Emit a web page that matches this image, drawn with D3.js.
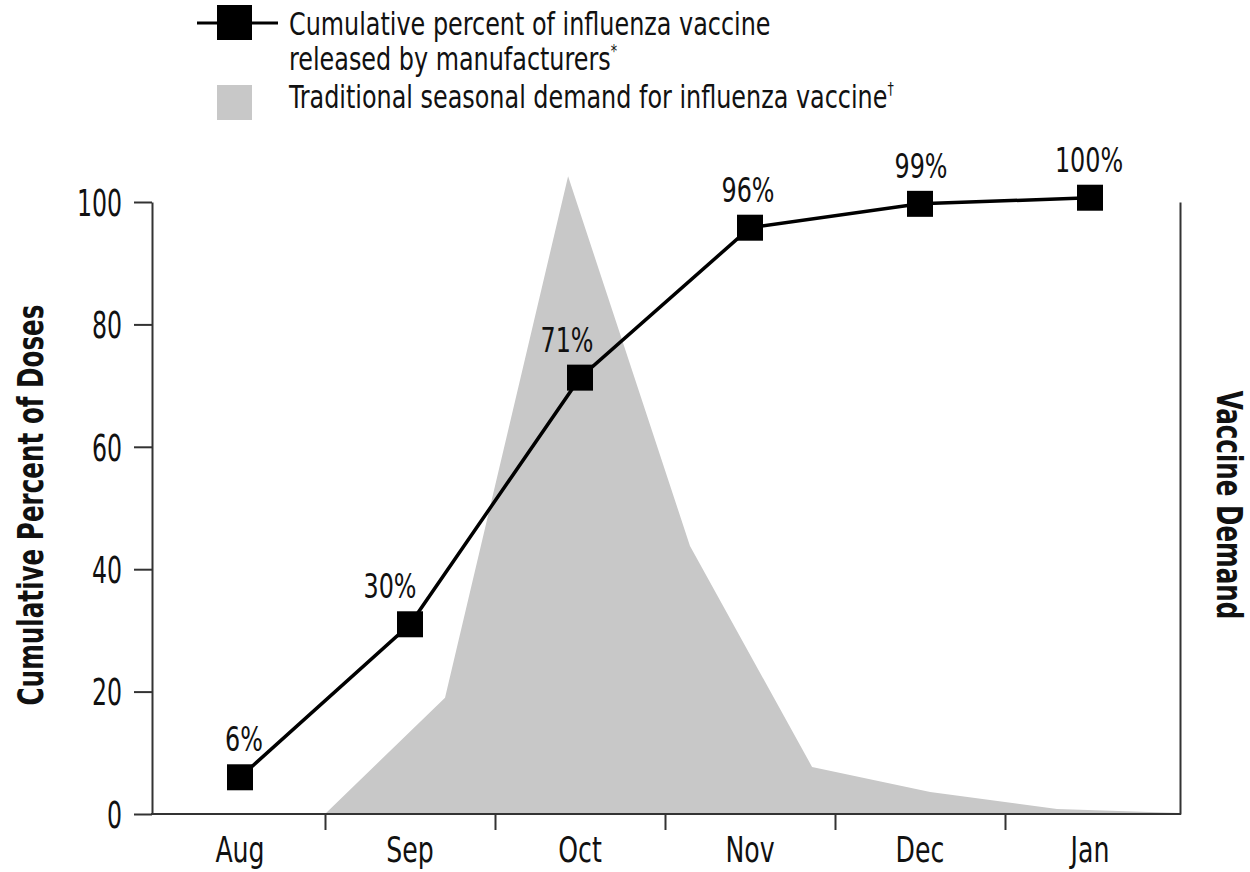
<!DOCTYPE html>
<html>
<head>
<meta charset="utf-8">
<script src="https://cdn.jsdelivr.net/npm/d3@7"></script>
<style>
  html, body { margin: 0; padding: 0; background: #fff; }
  svg text { font-family: 'Liberation Sans Narrow', 'DejaVu Sans Condensed', 'DejaVu Sans', sans-serif; fill: #111; }
</style>
</head>
<body>
<svg id="chart" width="1250" height="872"></svg>
<script>
// ---- data ----
const months = ["Aug", "Sep", "Oct", "Nov", "Dec", "Jan"];
const releasedPct = [6, 31, 71.3, 95.8, 99.7, 100.7];
const releasedLabels = ["6%", "30%", "71%", "96%", "99%", "100%"];
const demandMonthPos = [1.0, 1.706, 2.43, 3.147, 3.865, 4.56, 5.306, 6.03];
const demandValues = [0, 19, 104.2, 43.8, 7.7, 3.6, 0.8, 0.16];
const yTickValues = [0, 20, 40, 60, 80, 100];
const monthBoundaries = [1, 2, 3, 4, 5];

// ---- layout ----
const plotLeft = 152, plotRight = 1180, plotTop = 202, plotBottom = 814;
const labelDx = [4, -20, -13, -2, 1, -1];
const sq = 26;

// horizontally condense text (the original uses a condensed face)
function squeeze(sel, f) {
  sel.each(function () {
    const L = this.getComputedTextLength();
    d3.select(this).attr("textLength", L * f).attr("lengthAdjust", "spacingAndGlyphs");
  });
}

const svg = d3.select("#chart");
const x = d3.scaleLinear().domain([0, 6]).range([155, 1175]);
const y = d3.scaleLinear().domain([0, 100]).range([plotBottom, plotTop]);
const yDemand = d3.scaleLinear().domain([0, 100]).range([plotBottom, plotTop]);

// demand area
const demand = demandMonthPos.map((p, i) => ({ p, v: demandValues[i] }));
svg.append("path")
  .datum(demand)
  .attr("fill", "#c8c8c8")
  .attr("d", d3.area().x(d => x(d.p)).y0(y(0)).y1(d => yDemand(d.v)));

// left axis
const gL = svg.append("g").attr("transform", `translate(${plotLeft},0)`)
  .call(d3.axisLeft(y).tickValues(yTickValues).tickSize(18).tickPadding(12).tickSizeOuter(0));
gL.selectAll("path, line").attr("stroke", "#333").attr("stroke-width", 2);
gL.selectAll("text").attr("font-size", 37).attr("fill", "#111").attr("dy", "0.36em")
  .style("font-family", "'Liberation Sans Narrow', 'DejaVu Sans Condensed', 'DejaVu Sans', sans-serif");
squeeze(gL.selectAll("text"), 0.71);

// right axis
const gR = svg.append("g").attr("transform", `translate(${plotRight},0)`)
  .call(d3.axisRight(yDemand).tickValues([]).tickSizeOuter(0));
gR.selectAll("path").attr("stroke", "#333").attr("stroke-width", 2);

// bottom axis
const gB = svg.append("g").attr("transform", `translate(0,${plotBottom})`)
  .call(d3.axisBottom(x).tickValues(monthBoundaries).tickSize(16).tickFormat("").tickSizeOuter(0));
gB.select(".domain").attr("d", `M${plotLeft - 1},0H${plotRight + 1}`);
gB.selectAll("path, line").attr("stroke", "#333").attr("stroke-width", 2);

// month labels
const mLab = svg.append("g").selectAll("text").data(months).join("text")
  .attr("x", (d, i) => x(i + 0.5))
  .attr("y", 862)
  .attr("text-anchor", "middle")
  .attr("font-size", 35)
  .text(d => d);
squeeze(mLab, 0.8);

// released line
const released = releasedPct.map((v, i) => ({ i, v }));
svg.append("path")
  .datum(released)
  .attr("fill", "none")
  .attr("stroke", "#000")
  .attr("stroke-width", 3.5)
  .attr("d", d3.line().x(d => x(d.i + 0.5)).y(d => y(d.v)));

svg.append("g").selectAll("rect").data(released).join("rect")
  .attr("x", d => x(d.i + 0.5) - sq / 2)
  .attr("y", d => y(d.v) - sq / 2)
  .attr("width", sq).attr("height", sq)
  .attr("fill", "#000");

const pLab = svg.append("g").selectAll("text").data(released).join("text")
  .attr("x", d => x(d.i + 0.5) + labelDx[d.i])
  .attr("y", d => y(d.v) - sq / 2 - 13)
  .attr("text-anchor", "middle")
  .attr("font-size", 34)
  .text(d => releasedLabels[d.i]);
squeeze(pLab, 0.78);

// axis titles
const tL = svg.append("text")
  .attr("transform", `translate(43,505) rotate(-90)`)
  .attr("text-anchor", "middle")
  .attr("font-size", 36)
  .attr("font-weight", "bold")
  .text("Cumulative Percent of Doses");
squeeze(tL, 0.76);

const tR = svg.append("text")
  .attr("transform", `translate(1217,505) rotate(90)`)
  .attr("text-anchor", "middle")
  .attr("font-size", 35)
  .attr("font-weight", "bold")
  .text("Vaccine Demand");
squeeze(tR, 0.78);

// legend
const lg = svg.append("g");
lg.append("line").attr("x1", 197).attr("x2", 278).attr("y1", 23).attr("y2", 23)
  .attr("stroke", "#000").attr("stroke-width", 3);
lg.append("rect").attr("x", 217).attr("y", 5).attr("width", 35).attr("height", 35).attr("fill", "#000");
lg.append("rect").attr("x", 217).attr("y", 85).attr("width", 35).attr("height", 35).attr("fill", "#c8c8c8");

const lt = lg.append("g").attr("transform", "translate(289,0) scale(0.83,1)");
lt.append("text").attr("x", 0).attr("y", 35).attr("font-size", 32)
  .text("Cumulative percent of influenza vaccine");
const t2 = lt.append("text").attr("x", 0).attr("y", 70).attr("font-size", 32);
t2.append("tspan").text("released by manufacturers");
t2.append("tspan").attr("font-size", 17).attr("dy", -13).text("*");
const t3 = lt.append("text").attr("x", 0).attr("y", 108).attr("font-size", 32);
t3.append("tspan").text("Traditional seasonal demand for influenza vaccine");
t3.append("tspan").attr("font-size", 17).attr("dy", -13).text("\u2020");
</script>
</body>
</html>
